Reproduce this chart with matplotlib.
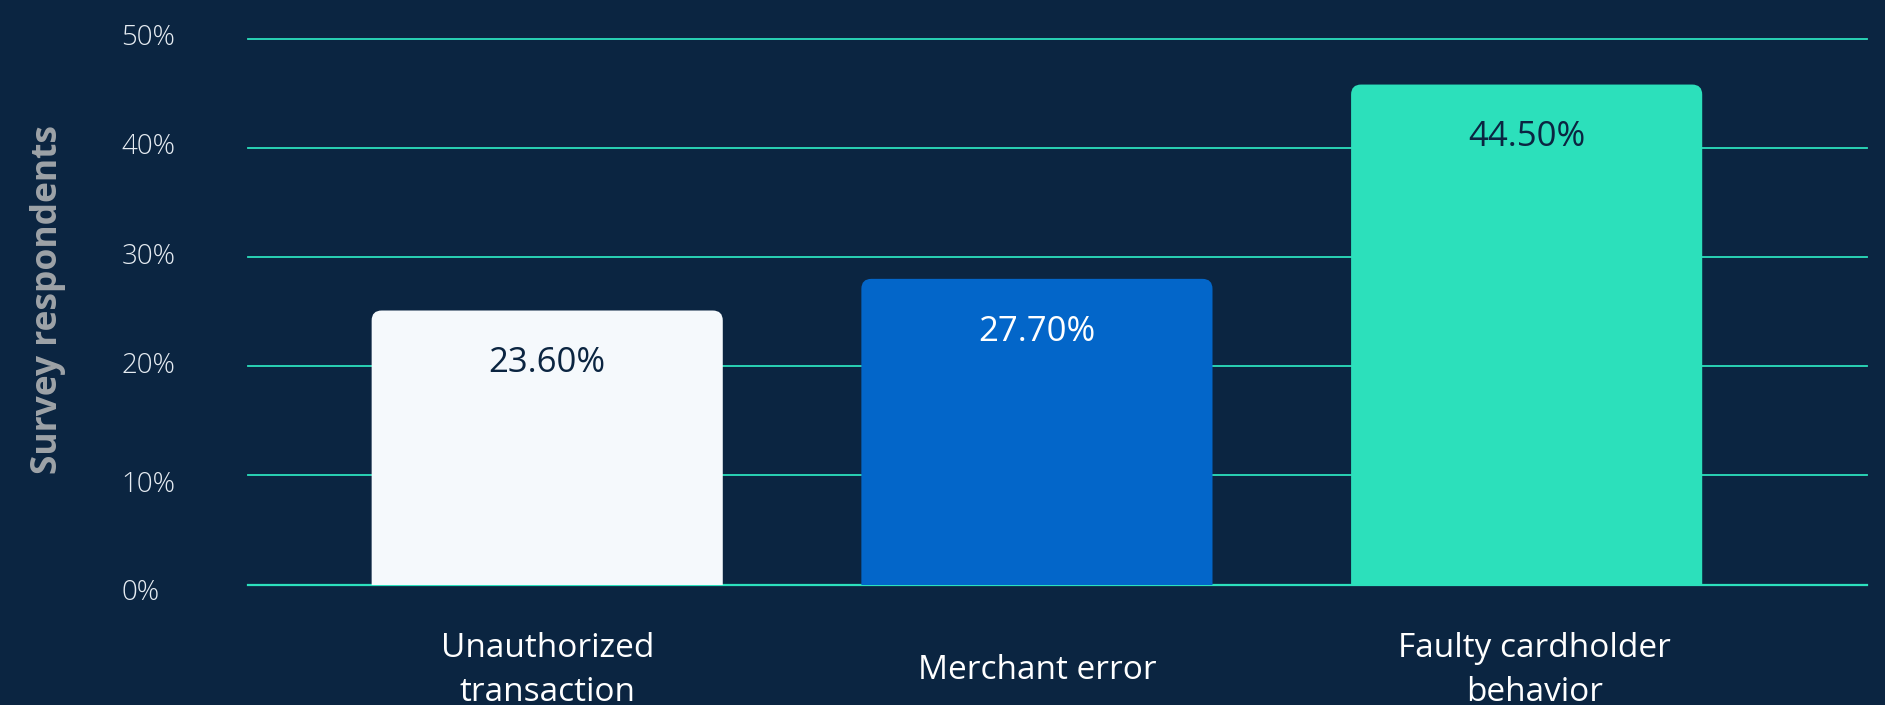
import matplotlib
matplotlib.use("Agg")
import matplotlib.pyplot as plt
from matplotlib.patches import FancyBboxPatch
from matplotlib.transforms import ScaledTranslation

# ---- data ----
categories = ["Unauthorized\ntransaction", "Merchant error", "Faulty cardholder\nbehavior"]
bar_heights = [25.1, 28.0, 45.8]          # drawn bar heights
value_labels = ["23.60%", "27.70%", "44.50%"]
y_ticks = [0, 10, 20, 30, 40, 50]
y_tick_labels = ["0%", "10%", "20%", "30%", "40%", "50%"]
y_title = "Survey respondents"

# ---- styles ----
BG = "#0b2541"
GRID = "#2ce0bd"
bar_colors = ["#f5f9fc", "#0366c9", "#2ce0bb"]
label_colors = ["#0b2541", "#ffffff", "#0b2541"]
TICK_COLOR = "#e6ecf2"
TITLE_COLOR = "#9ea3a8"
FONT = ["Open Sans", "DejaVu Sans"]
ytick_shift_px = [-5.5, -6, 3.5, 4, 4, 4.4]   # upward shift of each y tick label
xlabel_shift_px = [0, 0, 8]                    # rightward shift of each x label

plt.rcParams["font.family"] = FONT

fig = plt.figure(figsize=(18.85, 7.05), dpi=100, facecolor=BG)
ax = fig.add_axes([248 / 1885, 1 - 584.5 / 705, (1867 - 248) / 1885, (584.5 - 38.7) / 705])
ax.set_facecolor(BG)

x = list(range(len(categories)))
ax.set_xlim(-0.611, 2.695)
ax.set_ylim(0, 50)

# gridlines
for t in y_ticks:
    ax.axhline(t, color=GRID, lw=1.3 if t else 1.6, zorder=1, clip_on=False)

# bars with rounded top corners
bars = ax.bar(x, bar_heights, width=0.717, color=bar_colors, zorder=2)
rad_px = 10
xunit = (1867 - 248) / (2.695 + 0.611)
yunit = (584.5 - 38.7) / 50
rx = rad_px / xunit
ry = rad_px / yunit
for b, c in zip(bars, bar_colors):
    bx, bw, bh = b.get_x(), b.get_width(), b.get_height()
    b.remove()
    p = FancyBboxPatch((bx, -3), bw, bh + 3,
                       boxstyle=f"round,pad=0,rounding_size={rx}",
                       mutation_aspect=ry / rx,
                       facecolor=c, edgecolor="none", zorder=2, clip_on=True)
    ax.add_patch(p)

for xi, h, lab, lc in zip(x, bar_heights, value_labels, label_colors):
    ax.annotate(lab, xy=(xi, h), xytext=(0, -38), textcoords="offset points",
                ha="center", va="center", fontsize=25, color=lc, zorder=3)

# axes styling
for s in ax.spines.values():
    s.set_visible(False)

ax.set_yticks(y_ticks)
ax.set_yticklabels(y_tick_labels, fontsize=20, color=TICK_COLOR, fontweight="light")
ax.tick_params(axis="y", length=0, pad=91)
for lab, dy in zip(ax.get_yticklabels(), ytick_shift_px):
    lab.set_horizontalalignment("left")
    lab.set_transform(lab.get_transform() + ScaledTranslation(0, dy / 100, fig.dpi_scale_trans))

ax.set_xticks(x)
ax.set_xticklabels(categories, fontsize=24, color="#ffffff", linespacing=1.42)
ax.tick_params(axis="x", length=0, pad=62)
for lab, dx in zip(ax.get_xticklabels(), xlabel_shift_px):
    lab.set_verticalalignment("center")
    lab.set_transform(lab.get_transform() + ScaledTranslation(dx / 100, 0, fig.dpi_scale_trans))

fig.text(48 / 1885, 1 - 300 / 705, y_title, rotation=90, ha="center", va="center",
         fontsize=25.5, fontweight="bold", color=TITLE_COLOR)

fig.savefig("out.png", dpi=100, facecolor=BG)
